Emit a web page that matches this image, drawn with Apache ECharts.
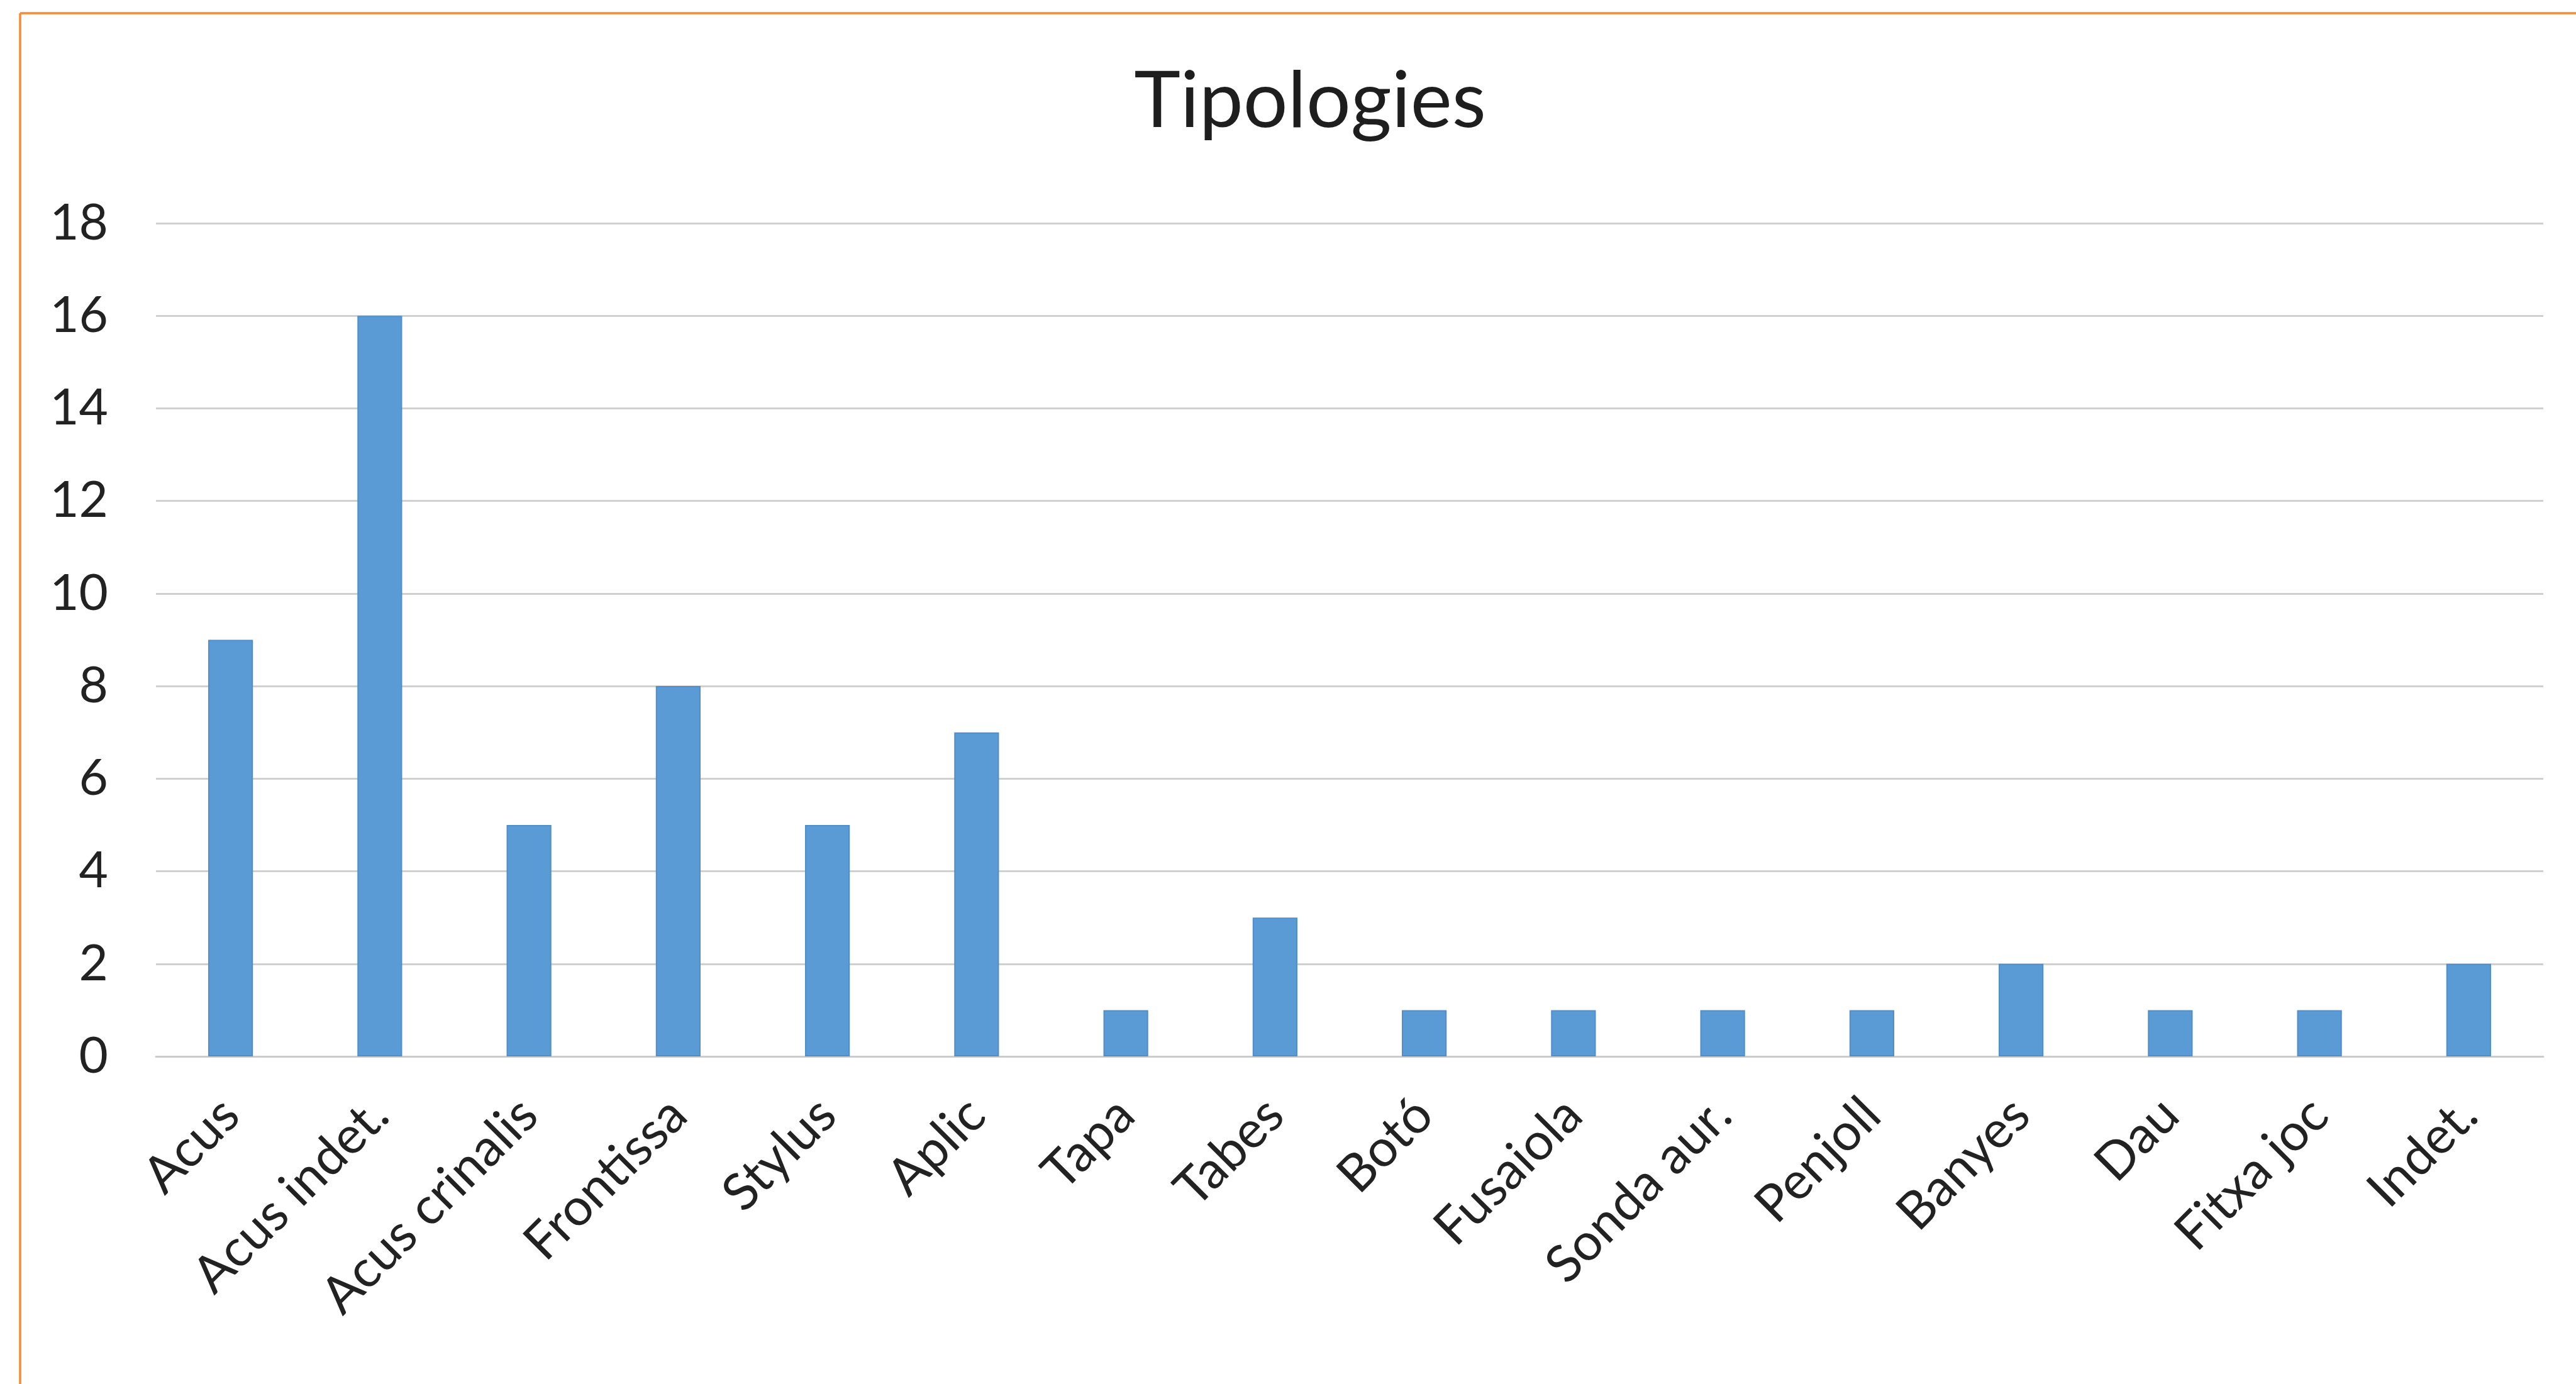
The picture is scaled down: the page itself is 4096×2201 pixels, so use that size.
<!DOCTYPE html>
<html>
<head>
<meta charset="utf-8">
<title>Tipologies</title>
<script src="https://cdn.jsdelivr.net/npm/echarts@6/dist/echarts.min.js"></script>
<style>
  html, body { margin: 0; padding: 0; background: #fff; }
  #chart { width: 4096px; height: 2201px; }
</style>
</head>
<body>
<div id="chart"></div>
<script>
// categories and counts
const categories = ['Acus', 'Acus indet.', 'Acus crinalis', 'Frontissa', 'Stylus', 'Aplic', 'Tapa', 'Tabes',
  'Botó', 'Fusaiola', 'Sonda aur.', 'Penjoll', 'Banyes', 'Dau', 'Fitxa joc', 'Indet.'];
const counts = [9, 16, 5, 8, 5, 7, 1, 3, 1, 1, 1, 1, 2, 1, 1, 2];
const yTicks = { min: 0, max: 18, step: 2 };

const chart = echarts.init(document.getElementById('chart'));

chart.setOption({
  backgroundColor: '#fff',
  textStyle: { fontFamily: 'Lato' },
  title: {
    text: 'Tipologies',
    left: 2083,
    top: 162,
    padding: 0,
    textAlign: 'center',
    textVerticalAlign: 'middle',
    textStyle: { fontFamily: 'Lato', fontSize: 125, fontWeight: 'normal', color: '#1e1e1e' }
  },
  grid: { left: 248, right: 52, top: 355, bottom: 521 },
  xAxis: {
    type: 'category',
    data: categories,
    axisTick: { show: false },
    axisLine: { lineStyle: { color: '#cccccc', width: 3 } },
    axisLabel: {
      interval: 0,
      rotate: 45,
      margin: 80,
      padding: [28, 0, 0, 0],   // nudges the slanted labels a little down-right
      fontSize: 82,
      color: '#222'
    }
  },
  yAxis: {
    type: 'value',
    min: yTicks.min,
    max: yTicks.max,
    interval: yTicks.step,
    axisLine: { show: false },
    axisTick: { show: false },
    axisLabel: { margin: 76, fontSize: 80, color: '#222' },
    splitLine: { lineStyle: { color: '#d0d0d0', width: 3 } }
  },
  series: [{
    type: 'bar',
    data: counts,
    barWidth: '30%',
    itemStyle: { color: '#5B9BD5', borderColor: '#4E8ECD', borderWidth: 2 }
  }],
  // orange frame along top and left edge
  graphic: [
    { type: 'line', shape: { x1: 32, y1: 21, x2: 4096, y2: 21 }, style: { stroke: '#F68B33', lineWidth: 3.5 } },
    { type: 'line', shape: { x1: 32, y1: 21, x2: 32, y2: 2201 }, style: { stroke: '#F68B33', lineWidth: 3.5 } }
  ]
});
</script>
</body>
</html>
